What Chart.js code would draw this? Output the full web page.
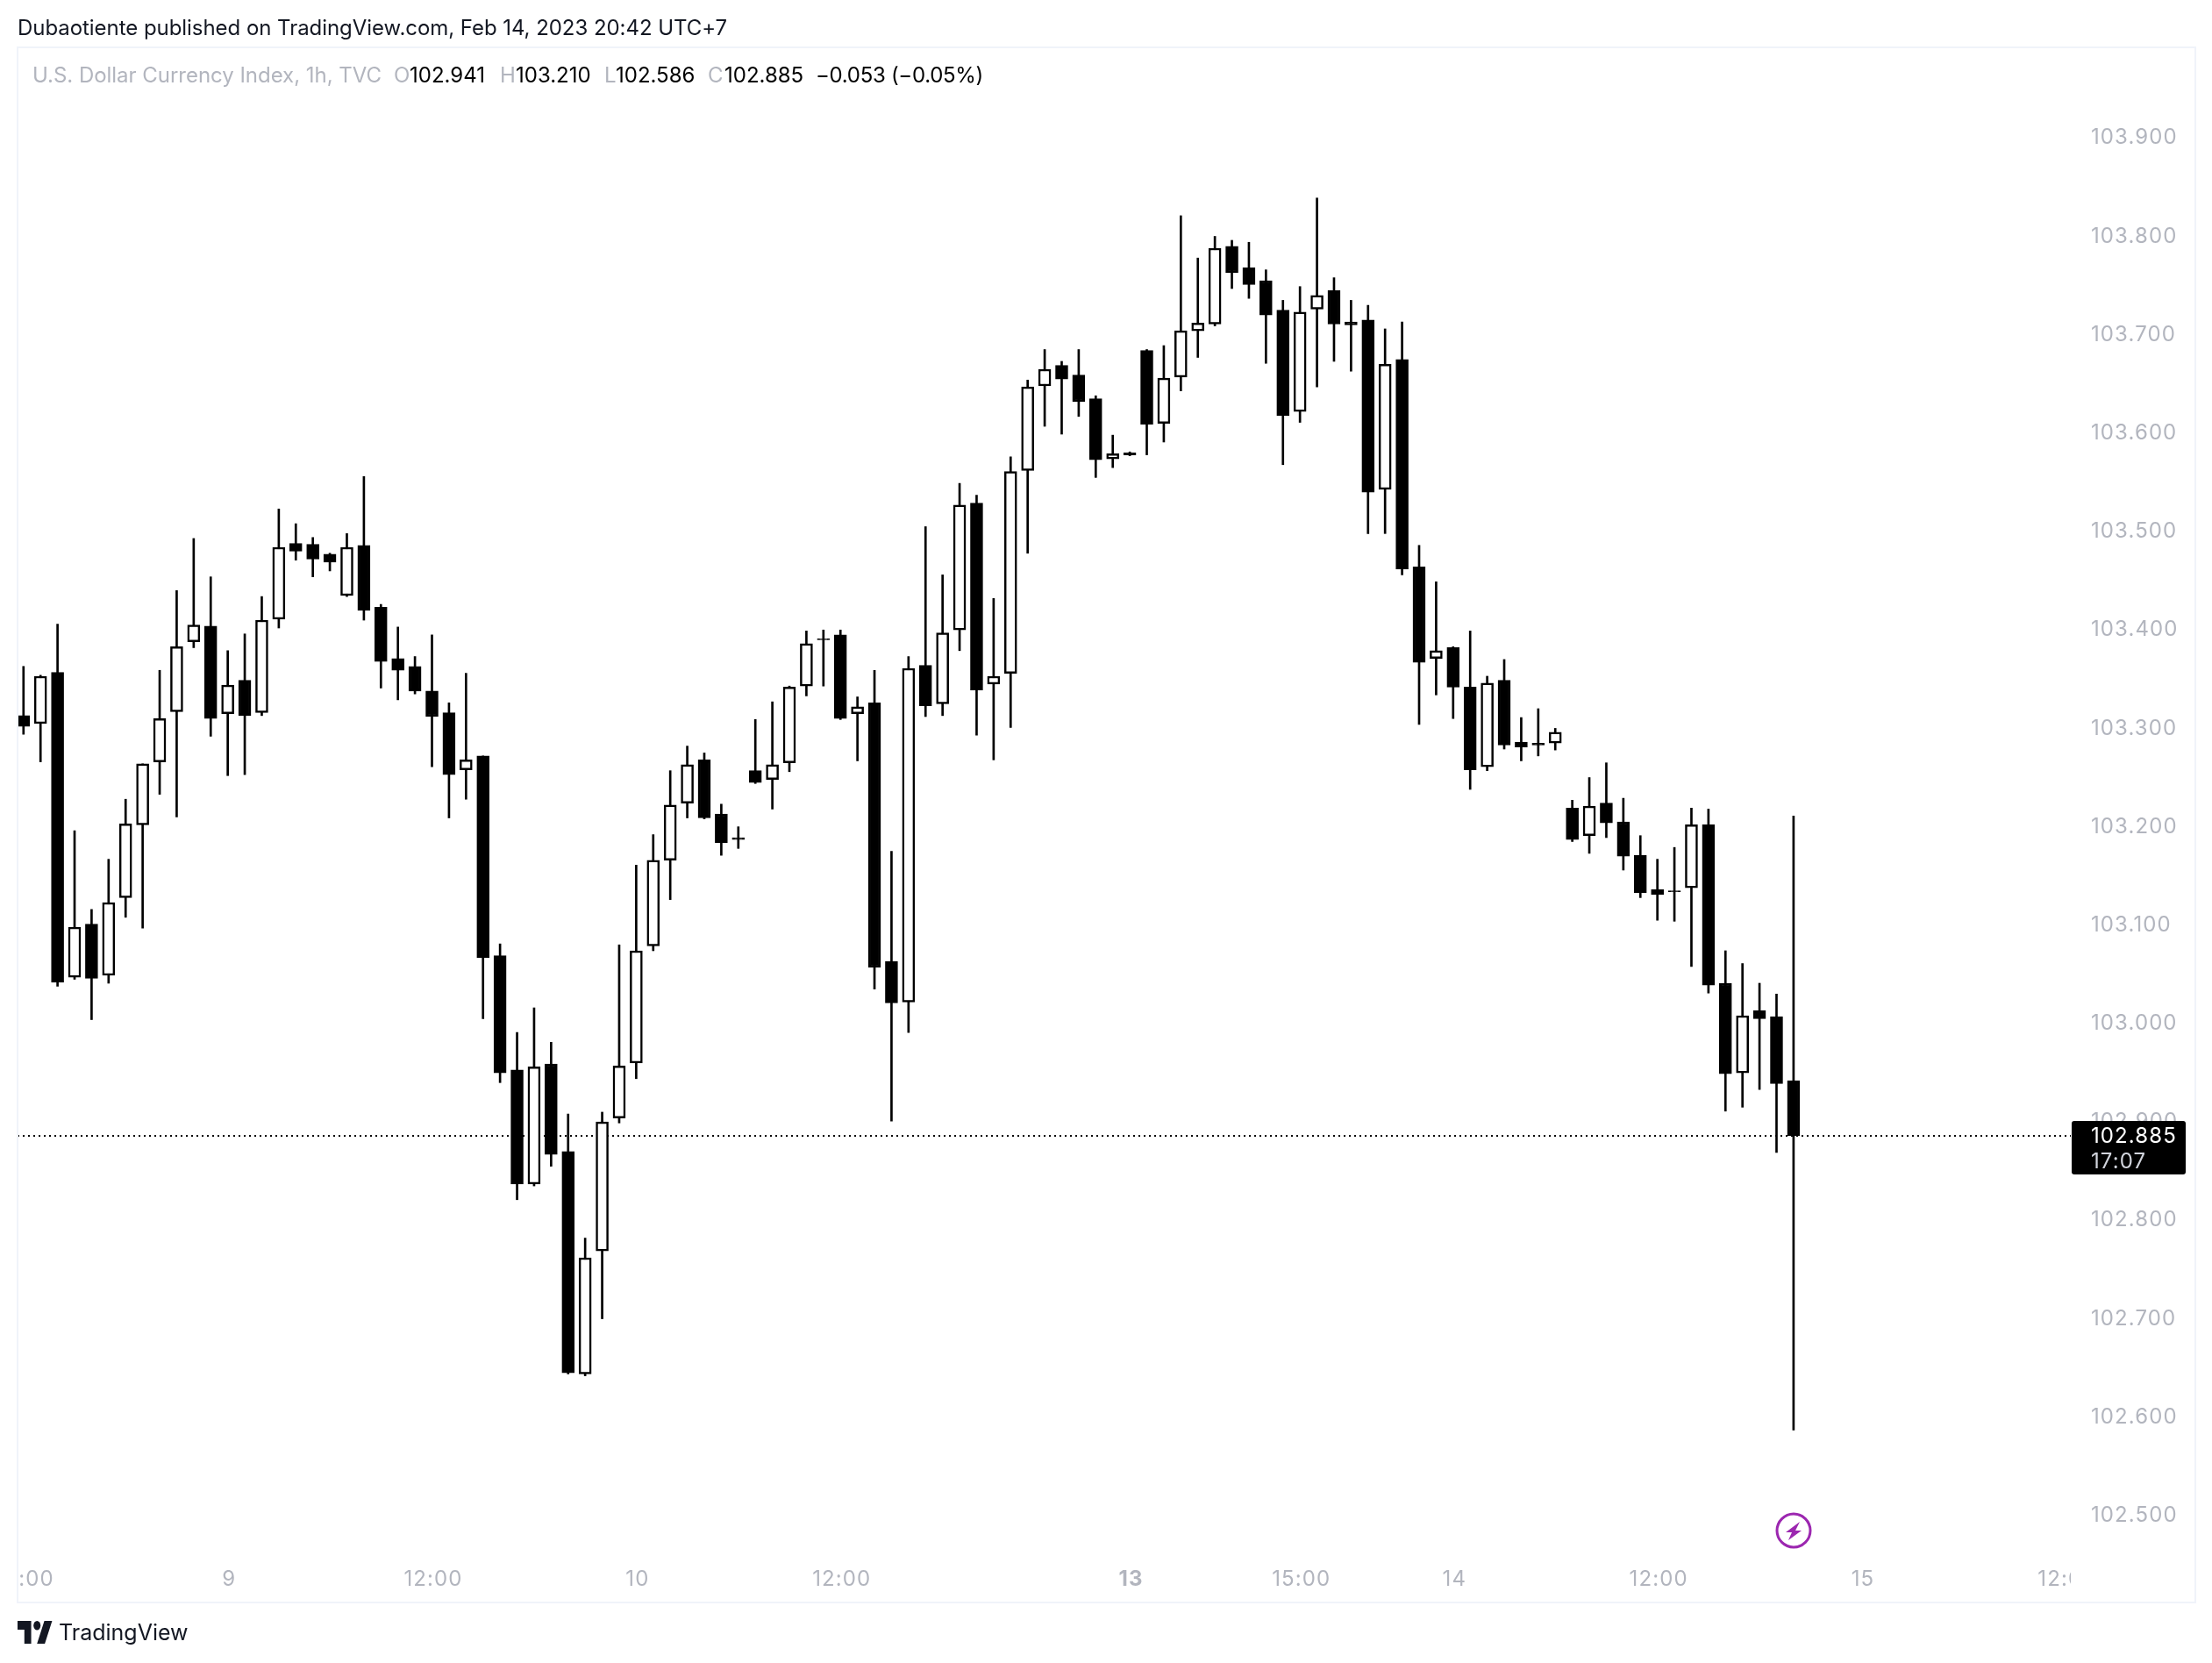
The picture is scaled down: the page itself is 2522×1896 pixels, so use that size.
<!DOCTYPE html>
<html>
<head>
<meta charset="utf-8">
<title>DXY 1h</title>
<script src="https://cdn.jsdelivr.net/npm/chart.js"></script>
<style>
  html, body { margin: 0; padding: 0; background: #fff; }
  body { width: 2522px; height: 1896px; position: relative; overflow: hidden; font-family: Inter, sans-serif; }
  #wrap { position: absolute; left: 0; top: 0; width: 2522px; height: 1896px; }
  #frame { position: absolute; left: 19px; top: 53px; width: 2481px; height: 1771px; border: 2px solid #f0f3fa; pointer-events: none; }
  #published { position: absolute; left: 20px; top: 17px; font-size: 24px; line-height: 30px; letter-spacing: -0.05px; color: #131722; white-space: nowrap; }
  #legend { position: absolute; left: 37px; top: 71px; font-size: 24px; line-height: 30px; color: #000; white-space: nowrap; }
  #legend span { position: absolute; top: 0; }
  #legend .dim { color: #b2b5be; letter-spacing: -0.03px; }
  #legend .change { letter-spacing: -0.3px; }
  #brand { position: absolute; left: 20px; top: 1848px; height: 26px; }
  #brandName { position: absolute; left: 67px; top: 1844px; font-size: 25px; line-height: 34px; color: #131722; white-space: nowrap; }
  #flash { position: absolute; left: 2023px; top: 1723px; }
</style>
</head>
<body>
<div id="wrap"><canvas id="dxyChart" width="2522" height="1896"></canvas></div>
<div id="frame"></div>
<div id="published">Dubaotiente published on TradingView.com, Feb 14, 2023 20:42 UTC+7</div>
<div id="legend"></div>
<svg id="brand" width="40" height="26" viewBox="0 0 36 18" preserveAspectRatio="none"><path fill="#131722" d="M14 18H7V7H0V0h14v18zM28 18h-8L27.5 0h8L28 18z"/><circle fill="#131722" cx="20" cy="3.6" r="3.6"/></svg>
<div id="brandName">TradingView</div>
<svg id="flash" width="44" height="44" viewBox="0 0 44 44"><circle cx="22" cy="22" r="19" fill="#fff" stroke="#9c27b0" stroke-width="3"/><path fill="#9c27b0" d="M29 12 L13 24 L20 24 L16 33 L31 22 L24 22 Z"/></svg>

<script>
// O/H/L/C, one entry per candle
const opens = [
  103.312, 103.304, 103.356, 103.046, 103.100, 103.048, 103.127, 103.201, 103.265, 103.316,
  103.387, 103.403, 103.314, 103.348, 103.315, 103.410, 103.487, 103.486, 103.476, 103.434,
  103.485, 103.422, 103.370, 103.362, 103.337, 103.315, 103.257, 103.271, 103.068, 102.952,
  102.836, 102.958, 102.869, 102.643, 102.768, 102.903, 102.959, 103.078, 103.165, 103.223,
  103.267, 103.212, 103.188, 103.256, 103.247, 103.264, 103.342, 103.390, 103.394, 103.314,
  103.325, 103.062, 103.021, 103.363, 103.324, 103.399, 103.528, 103.344, 103.355, 103.561,
  103.647, 103.668, 103.658, 103.634, 103.573, 103.579, 103.683, 103.609, 103.656, 103.703,
  103.710, 103.789, 103.767, 103.754, 103.724, 103.621, 103.725, 103.744, 103.712, 103.714,
  103.542, 103.674, 103.463, 103.370, 103.381, 103.341, 103.260, 103.348, 103.285, 103.284,
  103.284, 103.218, 103.190, 103.223, 103.204, 103.170, 103.135, 103.134, 103.137, 103.201,
  103.040, 102.949, 103.012, 103.006, 102.941
];
const highs = [
  103.362, 103.353, 103.405, 103.195, 103.115, 103.166, 103.227, 103.263, 103.358, 103.439,
  103.492, 103.453, 103.378, 103.395, 103.433, 103.522, 103.507, 103.493, 103.477, 103.497,
  103.555, 103.425, 103.402, 103.372, 103.394, 103.325, 103.355, 103.271, 103.080, 102.990,
  103.015, 102.980, 102.907, 102.781, 102.909, 103.079, 103.160, 103.191, 103.256, 103.281,
  103.274, 103.222, 103.199, 103.308, 103.326, 103.342, 103.398, 103.399, 103.399, 103.331,
  103.358, 103.174, 103.372, 103.504, 103.455, 103.548, 103.536, 103.431, 103.575, 103.653,
  103.684, 103.672, 103.684, 103.637, 103.597, 103.580, 103.684, 103.688, 103.820, 103.777,
  103.799, 103.795, 103.793, 103.765, 103.734, 103.748, 103.838, 103.757, 103.734, 103.729,
  103.705, 103.712, 103.485, 103.448, 103.382, 103.398, 103.352, 103.369, 103.310, 103.319,
  103.299, 103.226, 103.249, 103.264, 103.228, 103.190, 103.166, 103.178, 103.218, 103.217,
  103.073, 103.060, 103.040, 103.029, 103.210
];
const lows = [
  103.293, 103.265, 103.037, 103.044, 103.003, 103.040, 103.107, 103.096, 103.232, 103.209,
  103.381, 103.291, 103.251, 103.252, 103.312, 103.401, 103.470, 103.453, 103.459, 103.433,
  103.409, 103.340, 103.328, 103.334, 103.260, 103.208, 103.227, 103.004, 102.939, 102.820,
  102.834, 102.854, 102.643, 102.641, 102.699, 102.898, 102.943, 103.073, 103.125, 103.208,
  103.207, 103.170, 103.177, 103.243, 103.217, 103.255, 103.332, 103.342, 103.308, 103.266,
  103.034, 102.900, 102.990, 103.311, 103.312, 103.378, 103.292, 103.267, 103.300, 103.477,
  103.606, 103.598, 103.616, 103.554, 103.564, 103.576, 103.577, 103.590, 103.642, 103.676,
  103.708, 103.746, 103.736, 103.670, 103.567, 103.610, 103.646, 103.672, 103.662, 103.497,
  103.497, 103.455, 103.303, 103.333, 103.309, 103.237, 103.256, 103.278, 103.266, 103.271,
  103.277, 103.184, 103.172, 103.188, 103.155, 103.127, 103.104, 103.103, 103.057, 103.030,
  102.910, 102.914, 102.932, 102.868, 102.586
];
const closes = [
  103.301, 103.352, 103.041, 103.097, 103.045, 103.122, 103.202, 103.263, 103.309, 103.382,
  103.404, 103.309, 103.343, 103.312, 103.409, 103.483, 103.479, 103.471, 103.468, 103.483,
  103.419, 103.367, 103.358, 103.337, 103.311, 103.252, 103.267, 103.066, 102.949, 102.836,
  102.955, 102.866, 102.644, 102.761, 102.899, 102.956, 103.073, 103.165, 103.221, 103.262,
  103.208, 103.183, 103.186, 103.244, 103.262, 103.341, 103.385, 103.389, 103.309, 103.321,
  103.056, 103.020, 103.360, 103.322, 103.396, 103.526, 103.338, 103.352, 103.560, 103.646,
  103.664, 103.654, 103.631, 103.572, 103.578, 103.577, 103.608, 103.655, 103.703, 103.711,
  103.787, 103.762, 103.750, 103.719, 103.617, 103.722, 103.739, 103.710, 103.709, 103.539,
  103.669, 103.461, 103.366, 103.378, 103.341, 103.257, 103.345, 103.282, 103.280, 103.282,
  103.295, 103.186, 103.220, 103.203, 103.169, 103.132, 103.130, 103.133, 103.201, 103.038,
  102.948, 103.007, 103.004, 102.938, 102.885
];

const priceTicks = [102.5, 102.6, 102.7, 102.8, 102.9, 103.0, 103.1, 103.2, 103.3, 103.4, 103.5, 103.6, 103.7, 103.8, 103.9];
const timeTickBars = [0, 12, 24, 36, 48, 65, 75, 84, 96, 108, 120];
const timeTickLabels = ['12:00', '9', '12:00', '10', '12:00', '13', '15:00', '14', '12:00', '15', '12:00'];
const boldTimeTick = '13';

const lastPrice = closes[closes.length - 1];
const countdown = '17:07';
const legendName = 'U.S. Dollar Currency Index, 1h, TVC';
const legendValues = ['102.941', '103.210', '102.586', '102.885'];
const legendChange = '\u22120.053 (\u22120.05%)';

const candleColor = '#000';
const axisText = '#b2b5be';

// header strip above the pane
const legend = document.getElementById('legend');
function addLegend(text, left, cls) {
  const s = document.createElement('span');
  s.textContent = text;
  s.style.left = (left - 37) + 'px';
  if (cls) s.className = cls;
  legend.appendChild(s);
}
addLegend(legendName, 37, 'dim');
['O', 'H', 'L', 'C'].forEach((k, i) => {
  const at = [449, 570, 689, 807][i];
  addLegend(k, at, 'dim');
  addLegend(legendValues[i], [467, 588, 702, 826][i]);
});
addLegend(legendChange, 930, 'change');

const wicks = highs.map((h, i) => ({ x: i, y: [lows[i], h] }));
const bodies = opens.map((o, i) => ({ x: i, y: [o, closes[i]] }));

const lastPricePlugin = {
  id: 'lastPrice',
  beforeDraw(chart) {
    // axis text in the original is set a bit wider than Inter
    chart.ctx.letterSpacing = '1.1px';
  },
  beforeDatasetsDraw(chart) {
    const { ctx, chartArea } = chart;
    const y = chart.scales.y.getPixelForValue(lastPrice);
    ctx.save();
    ctx.strokeStyle = '#000';
    ctx.lineWidth = 2;
    ctx.setLineDash([2, 4]);
    ctx.beginPath();
    ctx.moveTo(chartArea.left, y);
    ctx.lineTo(chartArea.right, y);
    ctx.stroke();
    ctx.restore();
  },
  afterDraw(chart) {
    const { ctx, chartArea } = chart;
    const y = chart.scales.y.getPixelForValue(lastPrice);
    ctx.save();
    // time labels get cut at the pane edges
    ctx.fillStyle = '#fff';
    ctx.fillRect(0, chartArea.bottom, chartArea.left, 52);
    ctx.fillRect(chartArea.right, chartArea.bottom, 140, 52);
    // last price tag
    ctx.fillStyle = '#000';
    ctx.beginPath();
    ctx.roundRect(chartArea.right + 1, y - 17, 130, 61, 3);
    ctx.fill();
    ctx.font = '24px Inter, sans-serif';
    ctx.textBaseline = 'middle';
    ctx.textAlign = 'left';
    ctx.fillStyle = '#fff';
    ctx.fillText(lastPrice.toFixed(3), chartArea.right + 23, y + 1);
    ctx.fillStyle = '#d1d4dc';
    ctx.fillText(countdown, chartArea.right + 23, y + 30);
    ctx.restore();
  }
};

new Chart(document.getElementById('dxyChart'), {
  type: 'bar',
  data: {
    datasets: [
      {
        label: 'body',
        data: bodies,
        order: 1,
        grouped: false,
        barThickness: 14,
        borderWidth: 2.5,
        borderSkipped: false,
        borderColor: candleColor,
        backgroundColor: ctx => closes[ctx.dataIndex] < opens[ctx.dataIndex] ? candleColor : '#fff'
      },
      {
        label: 'wick',
        data: wicks,
        order: 2,
        grouped: false,
        barThickness: 2,
        borderWidth: 0,
        backgroundColor: candleColor
      }
    ]
  },
  plugins: [lastPricePlugin],
  options: {
    responsive: false,
    animation: false,
    layout: { padding: { left: 20, top: 54, right: 20, bottom: 71 } },
    plugins: { legend: { display: false }, tooltip: { enabled: false } },
    scales: {
      x: {
        type: 'linear',
        min: -0.35,
        max: 120.29,
        offset: false,
        grid: { display: false, drawTicks: false },
        border: { display: false },
        afterBuildTicks: axis => { axis.ticks = timeTickBars.map(v => ({ value: v })); },
        afterFit: axis => { axis.height = 53; axis.paddingLeft = 0; axis.paddingRight = 0; },
        ticks: {
          autoSkip: false,
          maxRotation: 0,
          padding: 14,
          labelOffset: 1.5,
          color: axisText,
          font: ctx => ({
            family: 'Inter, sans-serif',
            size: 24,
            weight: timeTickLabels[ctx.index] === boldTimeTick ? 'bold' : 'normal'
          }),
          callback: (value, index) => timeTickLabels[index]
        }
      },
      y: {
        position: 'right',
        min: 102.4597,
        max: 103.9911,
        grid: { display: false, drawTicks: false },
        border: { display: false },
        afterBuildTicks: axis => { axis.ticks = priceTicks.map(v => ({ value: v })); },
        afterFit: axis => { axis.width = 141; axis.paddingTop = 0; axis.paddingBottom = 0; },
        ticks: {
          padding: 23,
          labelOffset: 1,
          color: axisText,
          font: { family: 'Inter, sans-serif', size: 24 },
          callback: value => value.toFixed(3)
        }
      }
    }
  }
});
</script>
</body>
</html>
